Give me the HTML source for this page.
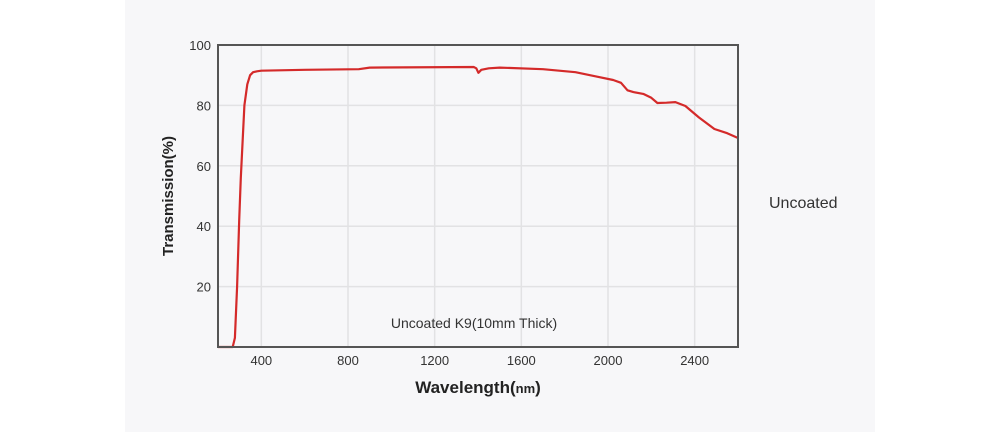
<!DOCTYPE html>
<html><head><meta charset="utf-8"><style>
html,body{margin:0;padding:0;width:1000px;height:432px;background:#fff;overflow:hidden;font-family:"Liberation Sans",sans-serif}
#panel{position:absolute;left:125px;top:0;width:750px;height:432px;background:#f7f7f9}
svg{position:absolute;left:0;top:0}
</style></head><body>
<div id="panel"></div>
<svg width="1000" height="432">
<g id="grid"></g>
<g id="ticks"></g>
<path id="curve" fill="none" stroke="#d42a2a" stroke-width="2.2" stroke-linejoin="round"></path>
<rect x="218" y="45" width="520" height="302" fill="none" stroke="#555" stroke-width="2"></rect>
<text x="474" y="328" font-size="14" fill="#333" text-anchor="middle">Uncoated K9(10mm Thick)</text>
<text x="478" y="393" font-size="17" font-weight="bold" fill="#222" text-anchor="middle">Wavelength(<tspan font-size="13">nm</tspan>)</text>
<text transform="translate(173,196) rotate(-90)" font-size="15" font-weight="bold" fill="#222" text-anchor="middle">Transmission(%)</text>
<text x="769" y="208" font-size="16" fill="#333">Uncoated</text>
</svg>
<script>
const xTicks=[400,800,1200,1600,2000,2400];
const yTicks=[20,40,60,80,100];
const wavelengths=[200,268,278,288,298,305,315,322,335,348,362,380,400,600,850,900,1380,1392,1402,1415,1450,1500,1700,1850,1950,2024,2060,2090,2117,2163,2200,2228,2270,2311,2357,2420,2491,2550,2600];
const transmission=[0,0,3,20,42,56,70,80,87,90,91,91.3,91.5,91.8,92,92.5,92.7,92.3,90.8,91.8,92.3,92.5,92,91,89.5,88.4,87.5,85,84.4,83.8,82.5,80.8,80.9,81.1,79.8,76,72.2,70.8,69.2];
const X=v=>218+(v-200)*520/2400;
const Y=v=>347-v*302/100;
const ns="http://www.w3.org/2000/svg";
const grid=document.getElementById('grid'),ticks=document.getElementById('ticks');
xTicks.forEach(t=>{
const l=document.createElementNS(ns,'line');
l.setAttribute('x1',X(t));l.setAttribute('x2',X(t));l.setAttribute('y1',45);l.setAttribute('y2',347);
l.setAttribute('stroke','#e2e2e4');l.setAttribute('stroke-width','1.5');


grid.appendChild(l);
const tx=document.createElementNS(ns,'text');
tx.setAttribute('x',X(t));tx.setAttribute('y',365);tx.setAttribute('text-anchor','middle');
tx.setAttribute('font-size','13');tx.setAttribute('fill','#333');tx.textContent=t;


ticks.appendChild(tx);
});
yTicks.forEach(t=>{
const l=document.createElementNS(ns,'line');
l.setAttribute('x1',218);l.setAttribute('x2',738);l.setAttribute('y1',Y(t));l.setAttribute('y2',Y(t));
l.setAttribute('stroke','#e2e2e4');l.setAttribute('stroke-width','1.5');


grid.appendChild(l);
const tx=document.createElementNS(ns,'text');
tx.setAttribute('x',211);tx.setAttribute('y',Y(t)+5);tx.setAttribute('text-anchor','end');
tx.setAttribute('font-size','13');tx.setAttribute('fill','#333');tx.textContent=t;


ticks.appendChild(tx);
});
document.getElementById('curve').setAttribute('d',wavelengths.map((w,i)=>(i?'L':'M')+X(w).toFixed(1)+','+Y(transmission[i]).toFixed(1)).join(' '));
</script>
</body></html>
